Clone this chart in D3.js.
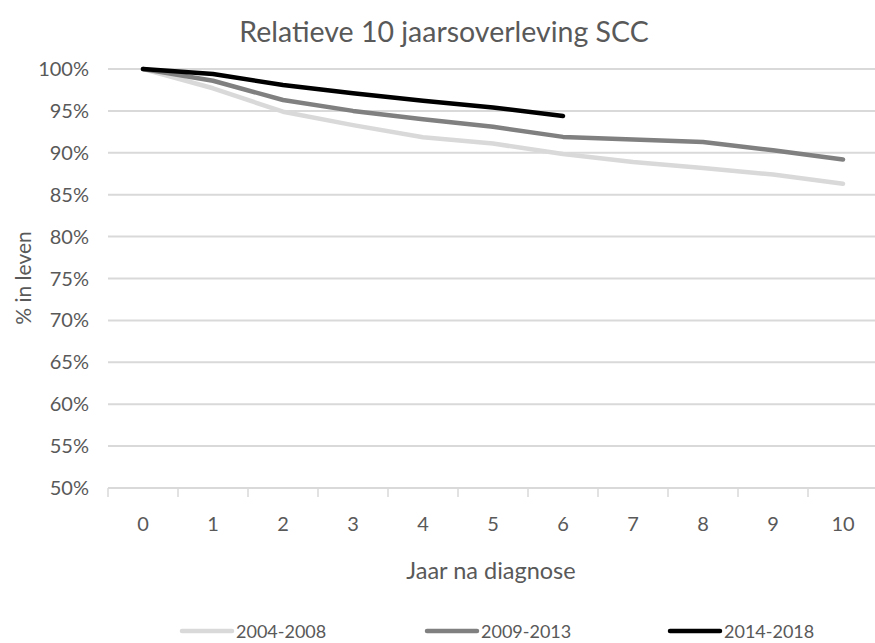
<!DOCTYPE html>
<html>
<head>
<meta charset="utf-8">
<script src="https://cdn.jsdelivr.net/npm/d3@7"></script>
<style>
  body { margin: 0; background: #fff; }
  text { font-family: Lato, "Open Sans", sans-serif; fill: #595959; }
</style>
</head>
<body>
<svg width="875" height="643"></svg>
<script>
var years = [0, 1, 2, 3, 4, 5, 6, 7, 8, 9, 10];
var yTicks = [50, 55, 60, 65, 70, 75, 80, 85, 90, 95, 100];

var s2004 = [100, 97.7, 94.9, 93.3, 91.85, 91.1, 89.85, 88.9, 88.2, 87.4, 86.3];
var s2009 = [100, 98.6, 96.3, 95.0, 94.0, 93.1, 91.9, 91.6, 91.3, 90.3, 89.2];
var s2014 = [100, 99.4, 98.1, 97.1, 96.2, 95.4, 94.4];

var series = [
    { name: "2004-2008", values: s2004, color: "#d9d9d9" },
    { name: "2009-2013", values: s2009, color: "#808080" },
    { name: "2014-2018", values: s2014, color: "#000000" }
];

var svg = d3.select("svg");

var x = d3.scaleBand()
    .domain(years)
    .range([108, 878]);

var y = d3.scaleLinear()
    .domain([50, 100])
    .range([488, 69]);

// title
svg.append("text")
    .attr("x", 444)
    .attr("y", 42)
    .attr("text-anchor", "middle")
    .style("font-size", "28.5px")
    .text("Relatieve 10 jaarsoverleving SCC");

// gridlines
svg.append("g")
    .selectAll("line")
    .data(yTicks)
    .enter().append("line")
    .attr("x1", 108)
    .attr("x2", 875)
    .attr("y1", function (d) { return y(d); })
    .attr("y2", function (d) { return y(d); })
    .attr("stroke", "#d9d9d9")
    .attr("stroke-width", 2);

// y labels
svg.append("g")
    .selectAll("text")
    .data(yTicks)
    .enter().append("text")
    .attr("x", 89)
    .attr("y", function (d) { return y(d) + 7; })
    .attr("text-anchor", "end")
    .style("font-size", "20px")
    .text(function (d) { return d + "%"; });

// x axis ticks
var xAxis = svg.append("g");
xAxis.selectAll("line")
    .data(years)
    .enter().append("line")
    .attr("x1", function (d) { return x(d); })
    .attr("x2", function (d) { return x(d); })
    .attr("y1", 488)
    .attr("y2", 497)
    .attr("stroke", "#d9d9d9")
    .attr("stroke-width", 1.5);

xAxis.selectAll("text")
    .data(years)
    .enter().append("text")
    .attr("x", function (d) { return x(d) + x.bandwidth() / 2; })
    .attr("y", 531)
    .attr("text-anchor", "middle")
    .style("font-size", "20px")
    .text(function (d) { return d; });

// axis titles
svg.append("text")
    .attr("x", 491)
    .attr("y", 579)
    .attr("text-anchor", "middle")
    .style("font-size", "23.5px")
    .text("Jaar na diagnose");

svg.append("text")
    .attr("transform", "translate(31,278) rotate(-90)")
    .attr("text-anchor", "middle")
    .style("font-size", "21px")
    .text("% in leven");

// lines
var line = d3.line()
    .x(function (d, i) { return x(years[i]) + x.bandwidth() / 2; })
    .y(function (d) { return y(d); });

svg.append("g")
    .selectAll("path")
    .data(series)
    .enter().append("path")
    .attr("d", function (d) { return line(d.values); })
    .attr("fill", "none")
    .attr("stroke", function (d) { return d.color; })
    .attr("stroke-width", 4.5)
    .attr("stroke-linecap", "round")
    .attr("stroke-linejoin", "round");

// legend
var legendX = [180, 425, 668];
var legend = svg.append("g")
    .selectAll("g")
    .data(series)
    .enter().append("g")
    .attr("transform", function (d, i) { return "translate(" + legendX[i] + ",631)"; });

legend.append("line")
    .attr("x1", 2)
    .attr("x2", 52)
    .attr("stroke", function (d) { return d.color; })
    .attr("stroke-width", 4.5)
    .attr("stroke-linecap", "round");

legend.append("text")
    .attr("x", 56)
    .attr("y", 7)
    .style("font-size", "18px")
    .text(function (d) { return d.name; });
</script>
</body>
</html>
